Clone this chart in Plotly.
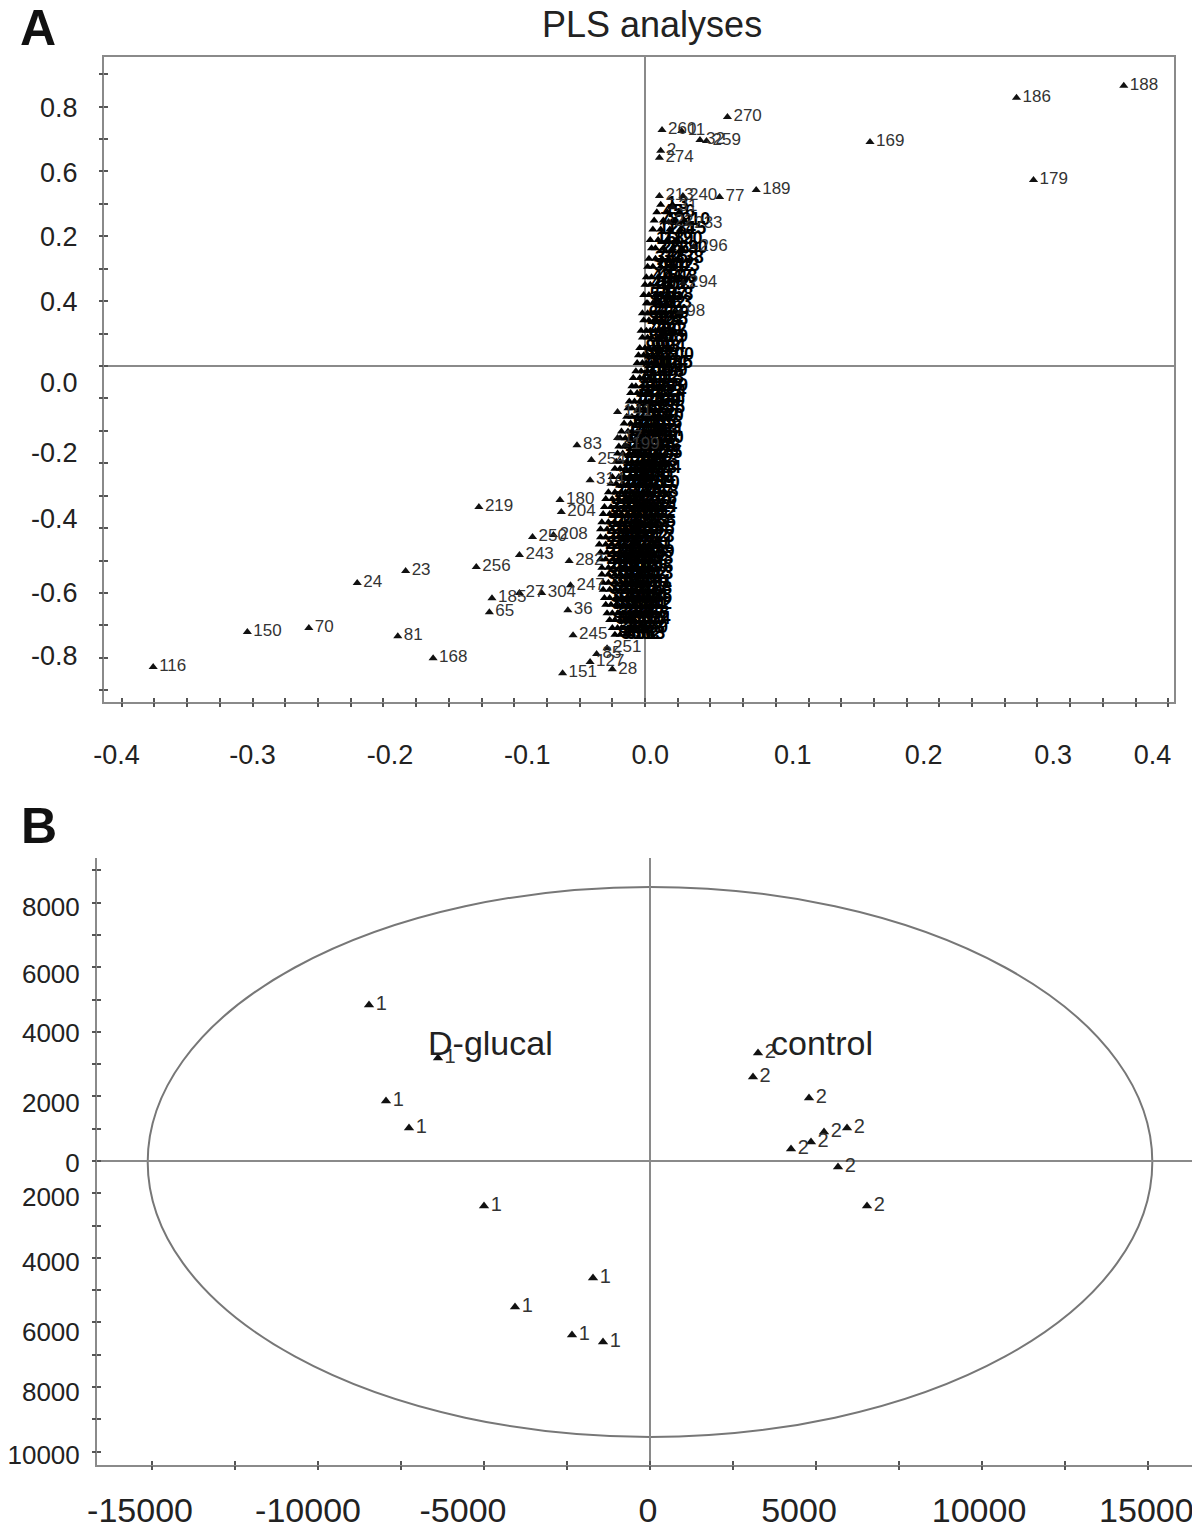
import plotly.graph_objects as go

# ---------------- Panel A : PLS loadings ----------------
A_OUT_LABELS = ["188", "186", "169", "179", "189", "270", "77", "213", "240", "260", "11", "32",
                "259", "274", "2", "31", "22", "233", "296", "294", "98",
                "116", "150", "70", "24", "23", "81", "168", "219", "256", "243", "250", "208",
                "185", "65", "27", "304", "282", "247", "36", "245", "85", "251", "151", "127",
                "28", "83", "254", "314", "180", "204", "141", "17", "199"]
A_OUT_X = [0.366, 0.284, 0.172, 0.297, 0.085, 0.063, 0.057, 0.011, 0.029, 0.013, 0.028, 0.042,
           0.047, 0.011, 0.012, 0.021, 0.018, 0.033, 0.037, 0.029, 0.027,
           -0.376, -0.304, -0.257, -0.220, -0.183, -0.189, -0.162, -0.127, -0.129, -0.096, -0.086, -0.070,
           -0.117, -0.119, -0.096, -0.079, -0.058, -0.057, -0.059, -0.055, -0.037, -0.029, -0.063, -0.042,
           -0.025, -0.052, -0.041, -0.042, -0.065, -0.064, -0.021, -0.021, -0.015]
A_OUT_Y = [0.864, 0.827, 0.691, 0.574, 0.543, 0.768, 0.521, 0.524, 0.524, 0.728, 0.725, 0.697,
           0.694, 0.642, 0.664, 0.490, 0.444, 0.438, 0.367, 0.256, 0.167,
           -0.928, -0.820, -0.808, -0.669, -0.632, -0.833, -0.901, -0.435, -0.620, -0.583, -0.527, -0.521,
           -0.716, -0.759, -0.700, -0.700, -0.601, -0.676, -0.753, -0.830, -0.888, -0.870, -0.947, -0.913,
           -0.935, -0.244, -0.290, -0.352, -0.413, -0.450, -0.142, -0.222, -0.244]

# dense central cluster of loadings, read row by row: (y, [x values])
A_CLUSTER_ROWS = [
    (0.497, [0.012, 0.021]),
    (0.474, [0.009, 0.017, 0.026]),
    (0.449, [0.007, 0.014, 0.023, 0.030]),
    (0.421, [0.006, 0.012, 0.019, 0.027]),
    (0.389, [0.004, 0.010, 0.017, 0.024]),
    (0.363, [0.005, 0.008, 0.014, 0.021, 0.028]),
    (0.331, [0.003, 0.008, 0.013, 0.018, 0.025]),
    (0.306, [0.002, 0.006, 0.012, 0.017, 0.022]),
    (0.274, [0.001, 0.005, 0.010, 0.016, 0.020]),
    (0.251, [0.000, 0.004, 0.009, 0.014, 0.019]),
    (0.219, [-0.001, 0.003, 0.008, 0.012, 0.017]),
    (0.194, [0.001, 0.002, 0.006, 0.011, 0.016]),
    (0.163, [-0.002, 0.002, 0.005, 0.010, 0.014]),
    (0.141, [-0.001, 0.003, 0.007, 0.009, 0.013]),
    (0.109, [-0.003, 0.001, 0.004, 0.008, 0.012]),
    (0.088, [-0.002, 0.002, 0.005, 0.010, 0.013]),
    (0.056, [-0.004, 0.000, 0.003, 0.007, 0.011]),
    (0.033, [-0.005, -0.001, 0.002, 0.006, 0.010]),
    (0.009, [-0.006, -0.002, 0.001, 0.005, 0.009]),
    (-0.016, [-0.007, -0.003, 0.002, 0.005]),
    (-0.037, [-0.009, -0.004, -0.001, 0.003]),
    (-0.062, [-0.010, -0.007, -0.002, 0.002, 0.006]),
    (-0.083, [-0.011, -0.006, -0.003, 0.001, 0.004]),
    (-0.109, [-0.012, -0.008, -0.004, 0.000, 0.003]),
    (-0.130, [-0.013, -0.010, -0.005, -0.001, 0.003]),
    (-0.156, [-0.014, -0.010, -0.006, -0.002, 0.002]),
    (-0.177, [-0.016, -0.011, -0.007, -0.004, 0.001]),
    (-0.202, [-0.018, -0.013, -0.010, -0.006, -0.002, 0.001]),
    (-0.223, [-0.019, -0.015, -0.011, -0.007, -0.003, 0.002]),
    (-0.248, [-0.020, -0.016, -0.013, -0.008, -0.004, 0.000]),
    (-0.270, [-0.021, -0.017, -0.012, -0.009, -0.005, -0.001, 0.001]),
    (-0.295, [-0.022, -0.019, -0.014, -0.010, -0.006, -0.002]),
    (-0.317, [-0.023, -0.019, -0.015, -0.011, -0.008, -0.003, 0.000]),
    (-0.342, [-0.025, -0.020, -0.016, -0.012, -0.008, -0.004]),
    (-0.363, [-0.026, -0.022, -0.017, -0.013, -0.009, -0.005, -0.001]),
    (-0.389, [-0.028, -0.023, -0.018, -0.015, -0.010, -0.006, -0.002]),
    (-0.410, [-0.030, -0.025, -0.020, -0.015, -0.011, -0.007, -0.003]),
    (-0.435, [-0.031, -0.026, -0.022, -0.016, -0.012, -0.008, -0.003]),
    (-0.456, [-0.032, -0.027, -0.022, -0.018, -0.013, -0.008, -0.004]),
    (-0.482, [-0.033, -0.028, -0.023, -0.018, -0.014, -0.009, -0.004]),
    (-0.503, [-0.034, -0.029, -0.025, -0.019, -0.014, -0.009, -0.005]),
    (-0.528, [-0.034, -0.030, -0.024, -0.020, -0.015, -0.010, -0.005]),
    (-0.550, [-0.035, -0.030, -0.025, -0.020, -0.016, -0.010, -0.006]),
    (-0.575, [-0.034, -0.029, -0.024, -0.019, -0.015, -0.011, -0.005]),
    (-0.596, [-0.034, -0.030, -0.024, -0.020, -0.015, -0.011, -0.006]),
    (-0.622, [-0.033, -0.028, -0.024, -0.019, -0.016, -0.010, -0.006]),
    (-0.643, [-0.033, -0.028, -0.023, -0.019, -0.014, -0.011, -0.006]),
    (-0.668, [-0.032, -0.028, -0.023, -0.018, -0.014, -0.010, -0.007]),
    (-0.690, [-0.032, -0.027, -0.023, -0.019, -0.014, -0.010, -0.007]),
    (-0.715, [-0.031, -0.027, -0.022, -0.018, -0.013, -0.010, -0.007]),
    (-0.736, [-0.030, -0.026, -0.022, -0.017, -0.013, -0.009, -0.007]),
    (-0.762, [-0.029, -0.025, -0.021, -0.017, -0.012, -0.009]),
    (-0.783, [-0.027, -0.023, -0.019, -0.015, -0.011, -0.008]),
    (-0.808, [-0.025, -0.021, -0.018, -0.013, -0.010]),
    (-0.829, [-0.023, -0.019, -0.015, -0.012]),
]

A_XTICK_VALS = [-0.404, -0.300, -0.195, -0.090, 0.004, 0.113, 0.213, 0.312, 0.388]
A_XTICK_TEXT = ["-0.4", "-0.3", "-0.2", "-0.1", "0.0", "0.1", "0.2", "0.3", "0.4"]
A_YTICK_VALS = [0.796, 0.598, 0.398, 0.200, -0.052, -0.268, -0.469, -0.697, -0.894]
A_YTICK_TEXT = ["0.8", "0.6", "0.2", "0.4", "0.0", "-0.2", "-0.4", "-0.6", "-0.8"]
A_XRANGE = [-0.4136, 0.4044]
A_YRANGE = [-1.036, 0.953]

# ---------------- Panel B : scores ----------------
B1_X = [-8464, -6386, -7952, -7259, -5000, -1717, -4066, -2349, -1416]
B1_Y = [4833, 3191, 1859, 1022, -1394, -3625, -4523, -5390, -5607]
B2_X = [3253, 3102, 4789, 5241, 5934, 4849, 4247, 5663, 6536]
B2_Y = [3346, 2602, 1952, 898, 1022, 589, 372, -186, -1394]
B1_LABEL = "1"
B2_LABEL = "2"
B_GROUP_NAMES = ["D-glucal", "control"]
B_GROUP_TEXT_X = [-4819, 5181]
B_GROUP_TEXT_Y = [3656, 3656]
B_ELLIPSE_X = [-15130, 15130]
B_ELLIPSE_Y = [-8550, 8490]

B_XTICK_VALS = [-15361, -10301, -5633, -60, 4488, 9910, 14950]
B_XTICK_TEXT = ["-15000", "-10000", "-5000", "0", "5000", "10000", "15000"]
B_YTICK_VALS = [7869, 5793, 3965, 1797, -62, -1115, -3129, -5297, -7156, -9108]
B_YTICK_TEXT = ["8000", "6000", "4000", "2000", "0", "2000", "4000", "6000", "8000", "10000"]
B_XRANGE = [-16657, 16536]
B_YRANGE = [-9418, 9387]

# ---------------- build ----------------
FONT = "Liberation Sans, Arial, sans-serif"
AX = "#8a8a8a"
TICKC = "#555555"
W, H = 1200, 1535
OFF = 8  # the page's default body margin shifts the figure by 8 px


def px_x(p):
    return (p - OFF) / W


def px_y(p):
    return 1 - (p - OFF) / H


cl_x, cl_y = [], []
for yv, xs in A_CLUSTER_ROWS:
    for xv in xs:
        cl_x.append(xv)
        cl_y.append(yv)
used = set(int(s) for s in A_OUT_LABELS)
pool = [str(i) for i in range(1, 400) if i not in used]
cl_labels = pool[:len(cl_x)]

fig = go.Figure()

# dense cluster (heavily overlapping labels)
fig.add_trace(go.Scatter(
    x=cl_x, y=cl_y, text=cl_labels,
    mode="markers+text", textposition="middle right",
    marker=dict(symbol="triangle-up", size=8, color="#000000", line=dict(width=0)),
    textfont=dict(family=FONT, size=18, color="#000000", weight="bold"),
    xaxis="x", yaxis="y", showlegend=False, hoverinfo="skip"))
# labelled outlying loadings
fig.add_trace(go.Scatter(
    x=A_OUT_X, y=A_OUT_Y, text=A_OUT_LABELS,
    mode="markers+text", textposition="middle right",
    marker=dict(symbol="triangle-up", size=8, color="#111111", line=dict(width=0)),
    textfont=dict(family=FONT, size=17, color="#333333"),
    xaxis="x", yaxis="y", showlegend=False, hoverinfo="skip"))

for gx, gy, lab in ((B1_X, B1_Y, B1_LABEL), (B2_X, B2_Y, B2_LABEL)):
    fig.add_trace(go.Scatter(
        x=gx, y=gy, text=[lab] * len(gx), mode="markers+text", textposition="middle right",
        marker=dict(symbol="triangle-up", size=9, color="#111111", line=dict(width=0)),
        textfont=dict(family=FONT, size=20, color="#333333"),
        xaxis="x2", yaxis="y2", showlegend=False, hoverinfo="skip"))

# empty traces so that the tick-only overlay axes get drawn
for xa, ya in (("x3", "y3"), ("x4", "y4"), ("x5", "y5"), ("x6", "y6")):
    fig.add_trace(go.Scatter(x=[], y=[], xaxis=xa, yaxis=ya, showlegend=False,
                             hoverinfo="skip", mode="markers"))

dA_x = [px_x(104), px_x(1174)]
dA_y = [px_y(702), px_y(57)]
dB_x = [px_x(97), px_x(1199)]
dB_y = [px_y(1465), px_y(858)]


def label_axis(domain, rng, vals, text, anchor, size, standoff, mirror):
    return dict(domain=domain, range=rng, anchor=anchor, tickmode="array", tickvals=vals,
                ticktext=text, ticks="", showgrid=False, zeroline=True, zerolinecolor=AX,
                zerolinewidth=2, showline=True, linecolor=AX, linewidth=2, mirror=mirror,
                tickfont=dict(family=FONT, size=size, color="#222222"), automargin=False,
                ticklabelstandoff=standoff, tickangle=0, fixedrange=True)


def tick_axis(rng, dtick, overlay, anchor, side, direction):
    return dict(overlaying=overlay, anchor=anchor, side=side, range=rng, tickmode="linear",
                tick0=0, dtick=dtick, ticks=direction, ticklen=4, tickwidth=2,
                tickcolor=TICKC, showticklabels=False, showgrid=False, zeroline=False,
                showline=False, fixedrange=True, automargin=False)


layout = dict(
    width=W, height=H, margin=dict(l=0, r=0, t=0, b=0, autoexpand=False),
    paper_bgcolor="white", plot_bgcolor="white", showlegend=False,
    xaxis=label_axis(dA_x, A_XRANGE, A_XTICK_VALS, A_XTICK_TEXT, "y", 27, 28, True),
    yaxis=label_axis(dA_y, A_YRANGE, A_YTICK_VALS, A_YTICK_TEXT, "x", 27, 19, True),
    xaxis2=label_axis(dB_x, B_XRANGE, B_XTICK_VALS, B_XTICK_TEXT, "y2", 34, 14, False),
    yaxis2=label_axis(dB_y, B_YRANGE, B_YTICK_VALS, B_YTICK_TEXT, "x2", 26, 10, False),
    xaxis3=tick_axis(A_XRANGE, 0.025, "x", "y", "bottom", "outside"),
    yaxis3=tick_axis(A_YRANGE, 0.1, "y", "x", "left", "outside"),
    xaxis4=tick_axis(A_XRANGE, 0.025, "x", "y", "bottom", "inside"),
    yaxis4=tick_axis(A_YRANGE, 0.1, "y", "x", "left", "inside"),
    xaxis5=tick_axis(B_XRANGE, 2500, "x2", "y2", "bottom", "outside"),
    yaxis5=tick_axis(B_YRANGE, 1000, "y2", "x2", "left", "outside"),
    xaxis6=tick_axis(B_XRANGE, 2500, "x2", "y2", "bottom", "inside"),
    yaxis6=tick_axis(B_YRANGE, 1000, "y2", "x2", "left", "inside"),
)
fig.update_layout(**layout)

fig.add_shape(type="circle", xref="x2", yref="y2",
              x0=B_ELLIPSE_X[0], x1=B_ELLIPSE_X[1], y0=B_ELLIPSE_Y[0], y1=B_ELLIPSE_Y[1],
              line=dict(color="#777777", width=2), layer="below")

for name, tx, ty in zip(B_GROUP_NAMES, B_GROUP_TEXT_X, B_GROUP_TEXT_Y):
    fig.add_annotation(x=tx, y=ty, xref="x2", yref="y2", text=name, showarrow=False,
                       font=dict(family=FONT, size=34, color="#222222"),
                       xanchor="center", yanchor="middle")

fig.add_annotation(x=px_x(652), y=px_y(25), xref="paper", yref="paper", text="PLS analyses",
                   showarrow=False, font=dict(family=FONT, size=36, color="#222222"),
                   xanchor="center", yanchor="middle")
fig.add_annotation(x=px_x(38), y=px_y(28), xref="paper", yref="paper", text="<b>A</b>",
                   showarrow=False, font=dict(family=FONT, size=50, color="#111111"),
                   xanchor="center", yanchor="middle")
fig.add_annotation(x=px_x(39), y=px_y(826), xref="paper", yref="paper", text="<b>B</b>",
                   showarrow=False, font=dict(family=FONT, size=50, color="#111111"),
                   xanchor="center", yanchor="middle")

fig.write_html("out.html")
